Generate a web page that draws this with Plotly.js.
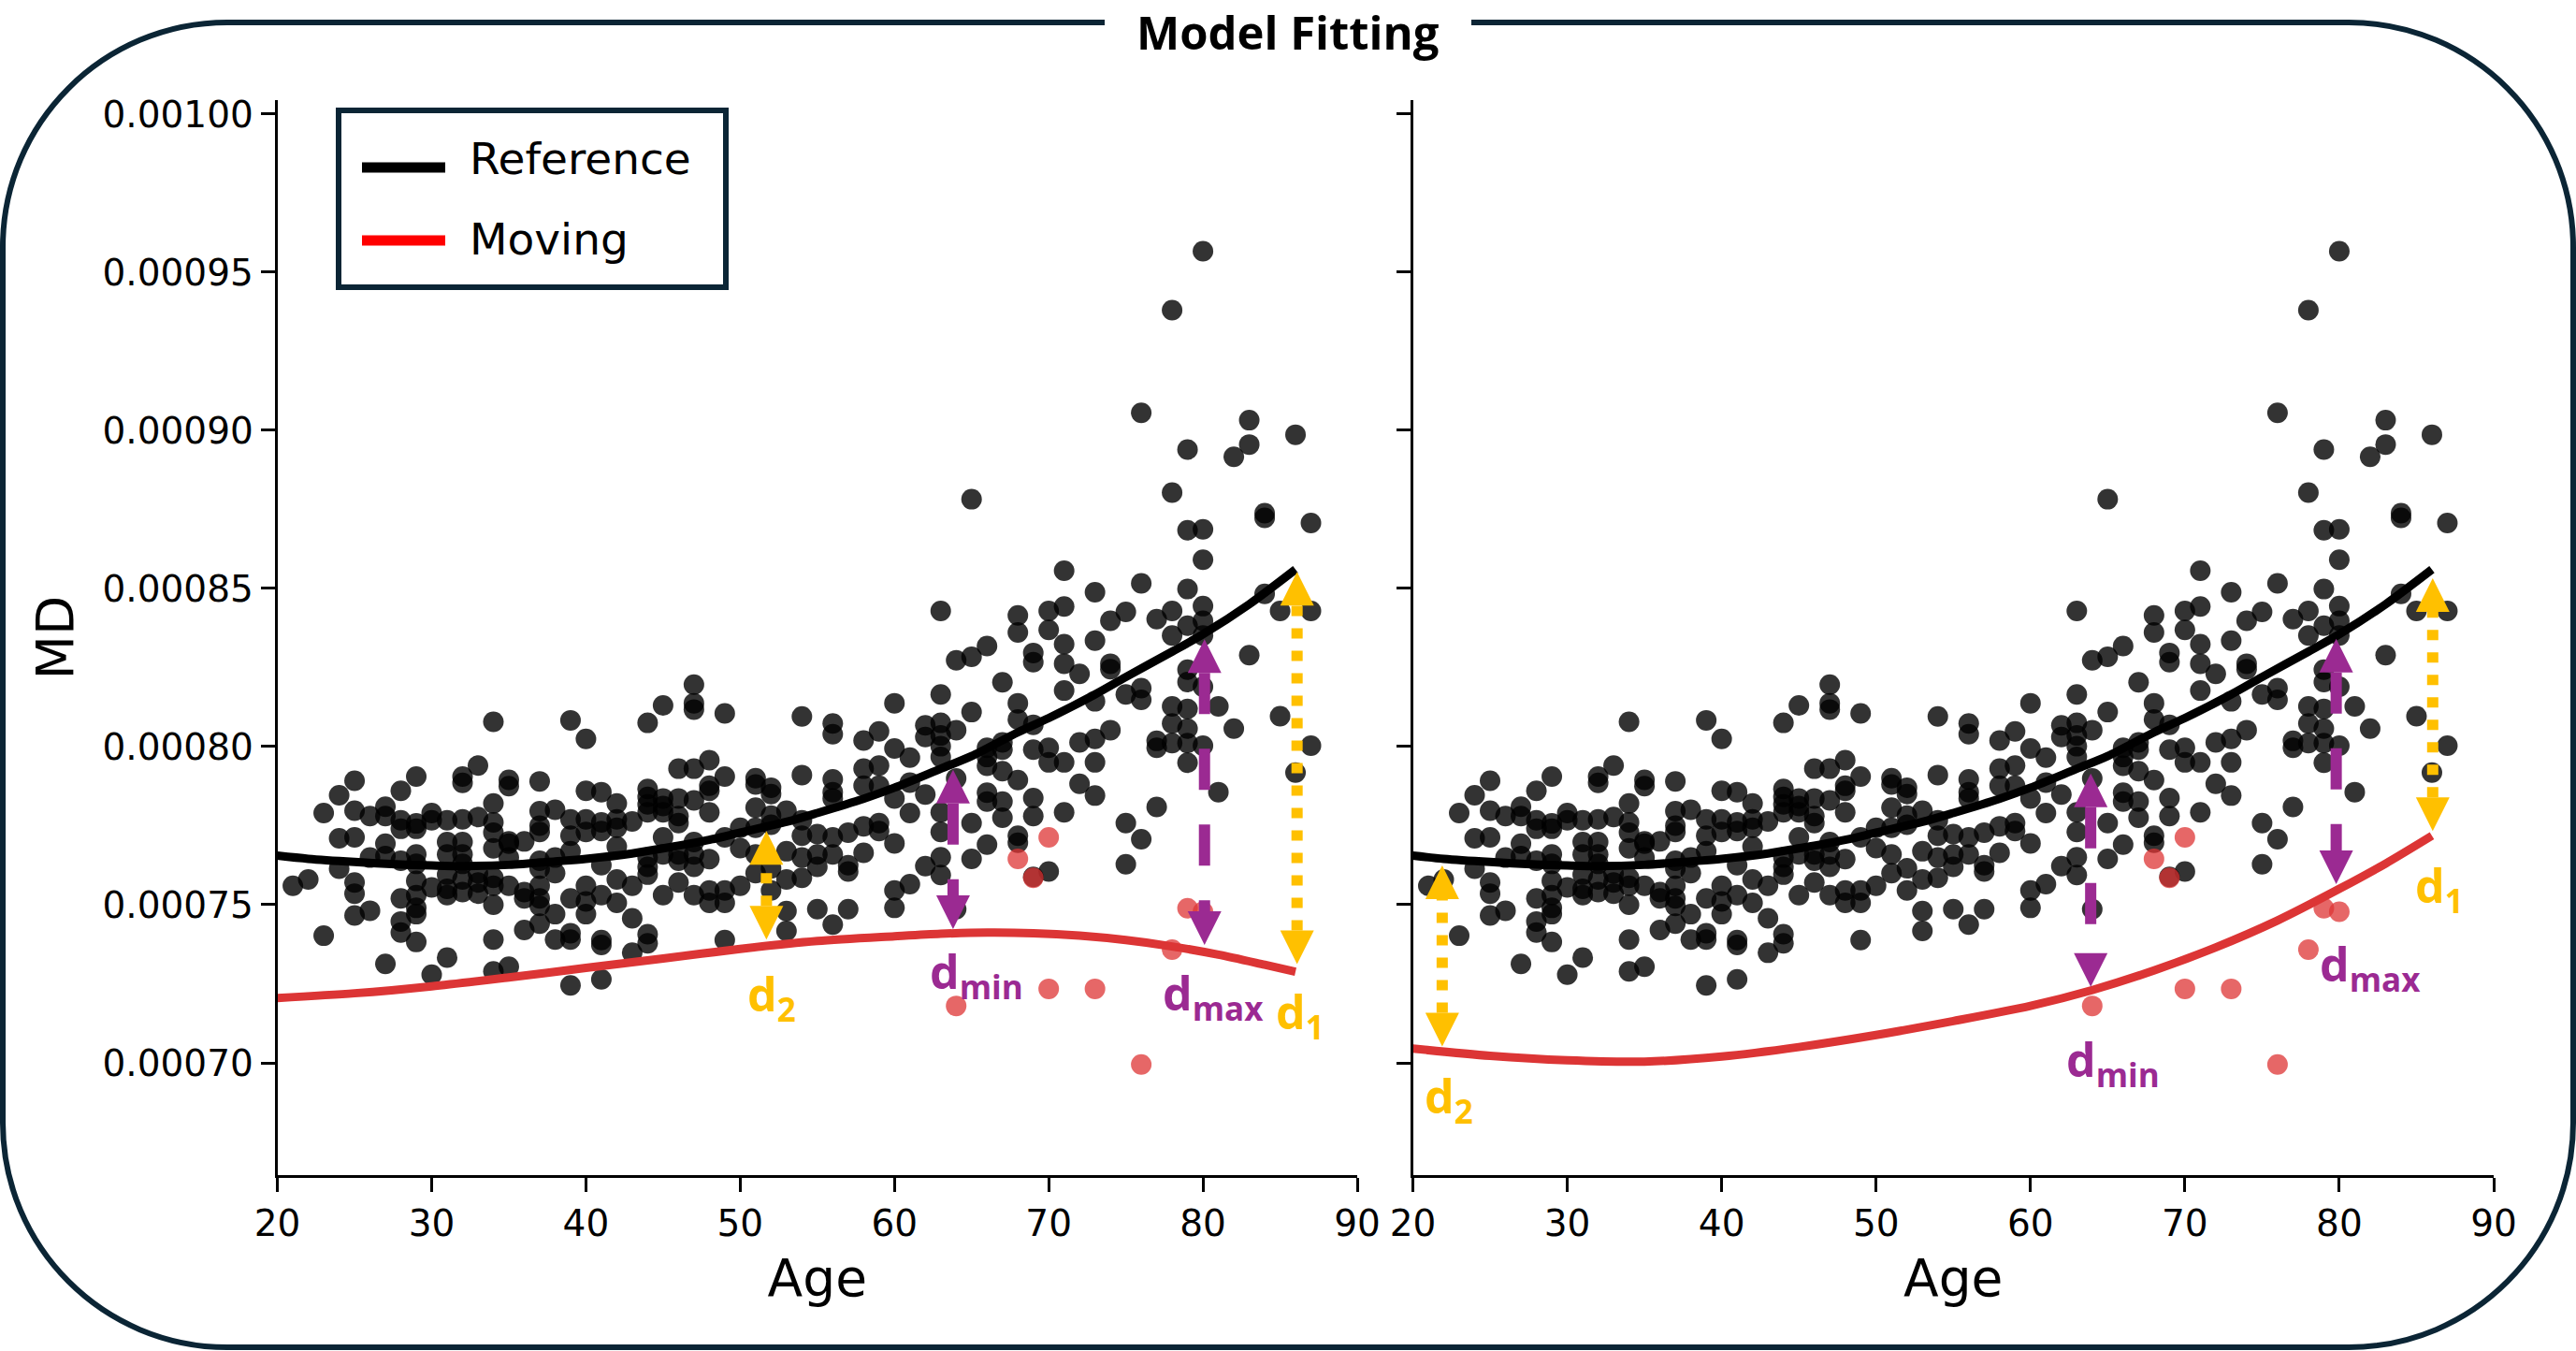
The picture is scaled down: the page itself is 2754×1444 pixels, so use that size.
<!DOCTYPE html>
<html><head><meta charset="utf-8">
<script src="https://cdn.plot.ly/plotly-3.0.1.min.js"></script>
<style>html,body{margin:0;padding:0;background:#fff}#chart{width:2754px;height:1444px}</style>
</head><body><div id="chart"></div>
<script>
// MD values are written in units of 1e-5
const UNIT = 1e-5;

// Reference subjects (black dots)
const refAge = [
21,
22,
23,23,
24,24,24,
25,25,25,25,25,25,
26,26,26,
27,27,27,27,27,
28,28,28,28,28,28,28,
29,29,29,29,29,29,29,29,29,29,
30,30,30,30,
31,31,31,31,31,31,31,
32,32,32,32,32,32,32,32,
33,33,33,33,33,
34,34,34,34,34,34,34,34,34,34,
35,35,35,35,35,35,35,
36,36,36,36,
37,37,37,37,37,37,37,37,37,37,
38,38,38,38,38,
39,39,39,39,39,39,39,39,
40,40,40,40,40,40,40,
41,41,41,41,41,41,41,41,
42,42,42,42,42,42,
43,43,43,43,
44,44,44,44,44,44,44,44,44,44,
45,45,45,45,45,45,45,
46,46,46,46,46,46,46,
47,47,47,47,47,47,47,47,47,
48,48,48,48,48,48,48,
49,49,49,49,49,49,
50,50,50,
51,51,51,51,51,51,
52,52,52,52,52,52,
53,53,53,53,53,
54,54,54,54,54,54,
55,55,55,55,
56,56,56,56,56,56,56,56,
57,57,57,57,
58,58,58,58,58,
59,59,59,59,59,
60,60,60,60,60,60,
61,61,61,61,
62,62,62,62,
63,63,63,63,63,63,63,63,63,63,
64,64,64,64,
65,65,65,65,65,
66,66,66,66,66,66,66,
67,67,67,67,67,67,
68,68,68,68,68,68,68,
69,69,69,69,69,69,69,
70,70,70,70,70,
71,71,71,71,71,71,71,
72,72,72,
73,73,73,73,73,73,
74,74,74,74,
75,75,75,75,
76,76,76,76,76,
77,77,77,77,
78,78,78,78,78,78,78,
79,79,79,79,79,79,79,79,79,79,
80,80,80,80,80,80,80,80,
81,81,
82,82,
83,83,83,
84,84,84,
85,85,
86,86,
87,87,87
];
const refMD = [
75.60,
75.80,
77.90,74.02,
78.46,77.10,76.14,
78.92,77.97,77.13,75.70,75.35,74.66,
77.80,76.49,74.81,
78.10,77.80,76.93,76.54,73.13,
78.60,77.67,77.40,76.39,75.20,74.47,74.12,
79.05,77.57,77.40,76.59,76.29,75.75,75.30,74.90,74.70,73.82,
77.90,77.67,75.55,72.79,
77.67,76.98,76.59,75.95,75.50,75.30,73.33,
79.05,78.85,77.70,76.98,76.59,76.29,75.80,75.40,
79.40,77.77,75.99,75.70,75.35,
80.78,78.20,77.60,77.28,76.78,75.85,75.60,75.00,73.90,72.89,
78.95,78.75,77.00,76.93,76.49,75.60,73.04,
77.00,75.40,75.20,74.20,
78.90,77.96,77.50,77.30,76.39,76.14,75.60,75.20,74.96,74.40,
78.00,76.49,76.00,74.70,73.90,
80.83,77.70,77.18,76.69,75.20,74.10,73.90,72.45,
80.24,78.60,77.70,77.30,75.60,75.10,74.70,
78.56,77.60,77.33,76.25,75.30,73.88,73.73,72.64,
78.20,77.70,77.43,76.84,75.80,75.06,
77.63,75.60,74.57,73.48,
80.75,78.66,78.41,78.17,77.92,76.49,76.20,75.95,74.07,73.78,
81.30,78.36,78.12,77.92,77.13,76.59,75.30,
79.30,78.36,77.80,77.58,76.59,76.39,75.70,
81.96,81.37,81.17,79.30,78.30,76.98,76.59,76.20,75.30,
79.57,78.76,78.60,77.92,76.44,75.45,75.06,
81.05,79.05,77.13,75.45,75.06,73.88,
77.43,76.79,75.60,
79.00,78.80,78.07,77.43,76.59,76.00,
78.70,78.50,77.82,77.53,76.15,75.45,
77.97,76.69,75.80,74.80,74.17,
80.95,79.10,77.67,77.18,76.49,75.85,
77.23,76.59,76.20,74.86,
80.73,80.39,78.96,78.56,78.36,77.13,76.59,74.37,
77.28,76.25,76.05,74.86,
80.19,79.30,78.76,77.48,76.64,
80.48,79.40,78.76,77.58,77.33,
81.37,79.94,78.36,76.94,75.45,74.90,
79.65,78.86,77.90,75.65,
80.67,80.30,78.48,76.22,
84.29,81.65,80.75,80.35,80.01,79.67,77.92,77.30,76.50,75.94,
82.73,80.52,78.99,74.86,
87.82,82.84,81.09,77.58,76.45,
83.18,79.96,79.67,79.39,78.54,78.26,76.90,
82.03,80.13,79.90,79.22,78.26,77.75,
84.15,83.61,81.37,80.86,78.94,77.18,76.96,
82.96,82.67,80.69,79.90,78.37,77.80,75.88,
84.29,83.69,79.96,79.50,76.05,
85.56,84.43,83.24,82.62,81.77,79.50,77.92,
82.30,80.13,78.82,
84.88,83.35,81.43,80.24,79.50,78.45,
83.98,82.62,82.45,80.52,
84.26,81.65,77.58,76.28,
90.55,85.16,81.85,81.48,77.07,
84.03,80.18,79.96,78.09,
93.80,88.03,84.29,83.51,81.27,80.73,80.11,
89.39,86.84,84.98,83.82,82.43,82.04,81.19,80.57,80.11,79.49,
95.66,86.87,85.91,84.44,83.98,83.51,81.89,80.03,
81.27,78.56,
89.16,80.57,
90.32,89.55,82.89,
87.38,87.23,84.83,
84.29,80.96,
89.86,79.18,
87.07,84.29,80.03
];

// Moving subjects (red dots)
const movAge = [64, 68, 69, 70, 70, 73, 76, 78, 79, 80];
const movMD  = [71.80, 76.45, 75.85, 77.13, 72.34, 72.34, 69.95, 73.58, 74.89, 74.78];

// Reference fit (same in both panels)
const refFitAge = [20,22,25,28,30,32,35,38,40,43,45,48,50,53,55,58,60,63,65,68,70,73,75,78,80,83,86];
const refFitMD  = [76.55,76.45,76.35,76.27,76.24,76.22,76.26,76.37,76.45,76.62,76.78,77.05,77.28,77.62,77.90,78.35,78.70,79.30,79.70,80.45,80.90,81.65,82.20,83.00,83.55,84.50,85.60];

// Moving fit, left panel
const movFitLeftAge = [20,25,30,35,40,45,50,55,60,63,66,69,72,75,78,81,84,86];
const movFitLeftMD  = [72.05,72.20,72.42,72.70,73.00,73.30,73.60,73.85,74.00,74.08,74.12,74.10,74.02,73.88,73.68,73.42,73.10,72.88];

// Moving fit, right panel
const movFitRightAge = [20,25,30,35,40,45,50,55,60,64,68,72,76,80,83,86];
const movFitRightMD  = [70.45,70.22,70.08,70.04,70.20,70.50,70.88,71.32,71.80,72.30,72.92,73.65,74.50,75.50,76.30,77.18];

// Distance arrows
const arrowPanel  = [1, 1, 1, 1, 2, 2, 2, 2];
const arrowKind   = ['d2','dmin','dmax','d1','d2','dmin','dmax','d1'];
const arrowAge    = [51.7, 63.8, 80.1, 86.1, 21.9, 63.9, 79.8, 86.05];
const arrowTop    = [77.33, 79.27, 83.39, 85.52, 76.24, 79.15, 83.41, 85.32];
const arrowBottom = [73.90, 74.23, 73.73, 73.12, 70.52, 72.40, 75.65, 77.33];
const labelAge    = [52.07, 65.33, 80.66, 86.30, 22.33, 65.34, 82.00, 86.46];
const labelMD     = [72.10, 72.81, 72.13, 71.54, 68.88, 70.03, 73.06, 75.53];
const labelText   = {d2:'d<sub>2</sub>', dmin:'d<sub>min</sub>', dmax:'d<sub>max</sub>', d1:'d<sub>1</sub>'};

const xTicks = [20,30,40,50,60,70,80,90];
const yTicks = [70,75,80,85,90,95,100];

// ---------------- styling ----------------
const W = 2754, H = 1444;
const NAVY = '#0b2535', PURPLE = '#9b2a92', YELLOW = '#ffc000';
const yRange = [0.0006645, 0.0010044];
const xDomL = [296.6/W, 1451/W], xDomR = [1510.5/W, 2666/W], yDom = [(H-1256)/H, (H-107)/H];
const plotHpx = (yDom[1]-yDom[0])*H;
const pxToY = p => p*(yRange[1]-yRange[0])/plotHpx;
const sc = a => a.map(v => v*UNIT);

const traces = [];
[['x','y',movFitLeftAge,movFitLeftMD],['x2','y2',movFitRightAge,movFitRightMD]].forEach(([xa,ya,ma,mm]) => {
  traces.push({type:'scatter', mode:'markers', name:'Reference subjects', x:refAge, y:sc(refMD), xaxis:xa, yaxis:ya,
    marker:{size:22, color:'rgba(0,0,0,0.8)', line:{width:0}}, showlegend:false, hoverinfo:'skip'});
  traces.push({type:'scatter', mode:'markers', name:'Moving subjects', x:movAge, y:sc(movMD), xaxis:xa, yaxis:ya,
    marker:{size:22, color:'rgba(222,52,52,0.75)', line:{width:0}}, showlegend:false, hoverinfo:'skip'});
  traces.push({type:'scatter', mode:'lines', name:'Reference', x:refFitAge, y:sc(refFitMD), xaxis:xa, yaxis:ya,
    line:{color:'#000', width:9, shape:'spline', smoothing:0.8}, showlegend:false, hoverinfo:'skip'});
  traces.push({type:'scatter', mode:'lines', name:'Moving', x:ma, y:sc(mm), xaxis:xa, yaxis:ya,
    line:{color:'#dc3535', width:9, shape:'spline', smoothing:0.8}, showlegend:false, hoverinfo:'skip'});
});

const HEAD = 36, HALF = 18; // arrow head length / half width, px
const shapes = [];
const annotations = [];
arrowAge.forEach((age,i) => {
  const xa = arrowPanel[i]===1 ? 'x' : 'x2', ya = arrowPanel[i]===1 ? 'y' : 'y2';
  const isP = arrowKind[i]==='dmin' || arrowKind[i]==='dmax';
  const col = isP ? PURPLE : YELLOW;
  const top = arrowTop[i]*UNIT, bot = arrowBottom[i]*UNIT, hl = pxToY(HEAD);
  const ys = isP ? [top-hl, bot+hl] : [bot+hl, top-hl];
  traces.push({type:'scatter', mode:'lines', x:[age,age], y:ys, xaxis:xa, yaxis:ya, showlegend:false, hoverinfo:'skip',
    line:{color:col, width:12, dash: isP ? '44px,37px' : '11px,13px'}});
  shapes.push({type:'path', xref:xa, yref:ya, xsizemode:'pixel', ysizemode:'pixel', xanchor:age, yanchor:top,
    path:'M'+(-HALF)+','+(-HEAD)+' L'+HALF+','+(-HEAD)+' L0,0 Z', fillcolor:col, line:{width:0}, layer:'above'});
  shapes.push({type:'path', xref:xa, yref:ya, xsizemode:'pixel', ysizemode:'pixel', xanchor:age, yanchor:bot,
    path:'M'+(-HALF)+','+HEAD+' L'+HALF+','+HEAD+' L0,0 Z', fillcolor:col, line:{width:0}, layer:'above'});
  annotations.push({xref:xa, yref:ya, x:labelAge[i], y:labelMD[i]*UNIT, text:labelText[arrowKind[i]],
    showarrow:false, xanchor:'center', yanchor:'middle',
    font:{family:'Open Sans', size:50, weight:'bold', color:col}});
});

// title
annotations.push({xref:'paper', yref:'paper', x:1377/W, y:1, xanchor:'center', yanchor:'top', showarrow:false, borderpad:0,
  text:'Model Fitting', font:{family:'Open Sans', size:49, weight:'bold', color:'#000'}});
// legend texts
annotations.push({xref:'paper', yref:'paper', x:500/W, y:1-170/H, xanchor:'left', yanchor:'middle', showarrow:false,
  text:'Reference', font:{family:'DejaVu Sans', size:47, color:'#000'}});
annotations.push({xref:'paper', yref:'paper', x:500/W, y:1-256/H, xanchor:'left', yanchor:'middle', showarrow:false,
  text:'Moving', font:{family:'DejaVu Sans', size:47, color:'#000'}});

// rounded frame (open at the title)
const L=3, R=2751, T=24, B=1440, r=240, k=r*0.5523;
const P = (x,y) => (x/W).toFixed(5)+','+(1-y/H).toFixed(5);
const framePath = 'M'+P(1181,T)+' L'+P(L+r,T)+' C'+P(L+r-k,T)+' '+P(L,T+r-k)+' '+P(L,T+r)+
  ' L'+P(L,B-r)+' C'+P(L,B-r+k)+' '+P(L+r-k,B)+' '+P(L+r,B)+
  ' L'+P(R-r,B)+' C'+P(R-r+k,B)+' '+P(R,B-r+k)+' '+P(R,B-r)+
  ' L'+P(R,T+r)+' C'+P(R,T+r-k)+' '+P(R-r+k,T)+' '+P(R-r,T)+' L'+P(1573,T);

shapes.push(
  {type:'path', xref:'paper', yref:'paper', path:framePath, line:{color:NAVY, width:6}, layer:'above'},
  {type:'rect', xref:'paper', yref:'paper', x0:362/W, x1:776/W, y0:1-118/H, y1:1-307/H, line:{color:NAVY, width:6}, fillcolor:'#fff', layer:'above'},
  {type:'line', xref:'paper', yref:'paper', x0:387/W, x1:476/W, y0:1-179/H, y1:1-179/H, line:{color:'#000', width:11}, layer:'above'},
  {type:'line', xref:'paper', yref:'paper', x0:387/W, x1:476/W, y0:1-257/H, y1:1-257/H, line:{color:'#ff0000', width:11}, layer:'above'}
);

const tickFont = {family:'DejaVu Sans', size:39, color:'#000'};
const titleFont = {family:'DejaVu Sans', size:55, color:'#000'};
function xAxis(dom, anchor){
  return {domain:dom, anchor:anchor, range:[20,90], showline:true, linecolor:'#000', linewidth:3, mirror:false,
    ticks:'outside', ticklen:15, tickwidth:3, tickcolor:'#000', tickvals:xTicks, ticktext:xTicks.map(String),
    tickfont:tickFont, showgrid:false, zeroline:false, automargin:false, fixedrange:true,
    title:{text:'Age', font:titleFont, standoff:18}};
}
function yAxis(anchor, labels){
  const ax = {domain:yDom, anchor:anchor, range:yRange, showline:true, linecolor:'#000', linewidth:3,
    ticks:'outside', ticklen:15, tickwidth:3, tickcolor:'#000', tickvals:sc(yTicks), tickformat:'.5f',
    showticklabels:labels, tickfont:tickFont, showgrid:false, zeroline:false, automargin:false, fixedrange:true};
  if(labels) ax.title = {text:'MD', font:titleFont, standoff:14};
  return ax;
}

const layout = {
  width:W, height:H, margin:{l:0,r:0,t:0,b:0}, paper_bgcolor:'#fff', plot_bgcolor:'rgba(0,0,0,0)',
  showlegend:false,
  xaxis:xAxis(xDomL,'y'), yaxis:yAxis('x',true),
  xaxis2:xAxis(xDomR,'y2'), yaxis2:yAxis('x2',false),
  shapes:shapes, annotations:annotations
};

Plotly.newPlot('chart', traces, layout, {staticPlot:true});
</script></body></html>
